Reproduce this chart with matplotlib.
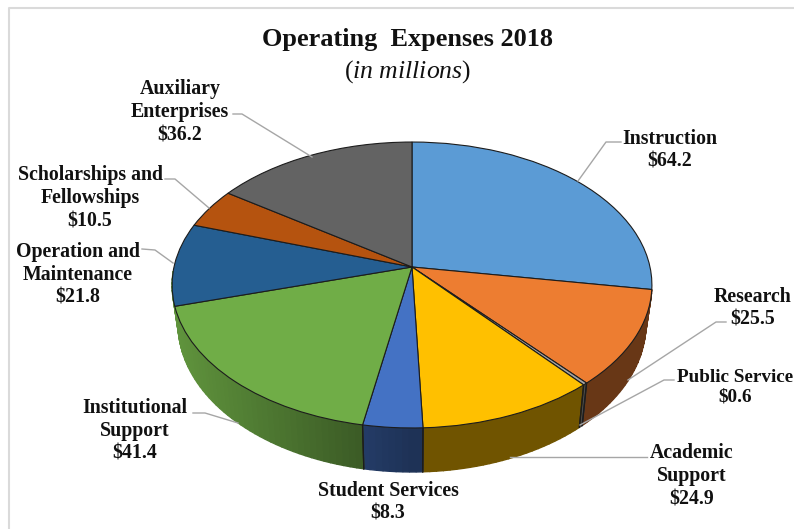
import numpy as np
import matplotlib
matplotlib.use("Agg")
import matplotlib.pyplot as plt
from matplotlib.transforms import Transform

plt.rcParams['font.family'] = ['Liberation Serif']
plt.rcParams['mathtext.fontset'] = 'custom'
plt.rcParams['mathtext.rm'] = 'Liberation Serif'
plt.rcParams['mathtext.it'] = 'Liberation Serif:italic'

# ---------- data ----------
categories = ["Instruction", "Research", "Public Service", "Academic\nSupport",
              "Student Services", "Institutional\nSupport", "Operation and\nMaintenance",
              "Scholarships and\nFellowships", "Auxiliary\nEnterprises"]
values = [64.2, 25.5, 0.6, 24.9, 8.3, 41.4, 21.8, 10.5, 36.2]
colors = ["#5B9BD5", "#ED7D31", "#A5A5A5", "#FFC000", "#4472C4",
          "#70AD47", "#255E91", "#B5530F", "#636363"]
label_pos = [(670, 150), (753, 308), (735, 387), (692, 476), (388, 502),
             (135, 431), (78, 275), (90, 198), (180, 112)]
label_size = [14.3, 14.3, 13.8, 14.3, 14.3, 14.3, 14.3, 14.3, 14.3]
leaders = [
    [(621, 142), (606, 142), (578, 181)],
    [(726, 322), (716, 322), (628, 380)],
    [(674, 380), (664, 380), (580, 425)],
    [(647, 457), (510, 457)],
    [(193, 413), (205, 413), (238, 423)],
    [(142, 249), (155, 250), (173, 263)],
    [(165, 179), (175, 179), (209, 208)],
    [(233, 114), (242, 114), (312, 157)],
]

# ---------- perspective geometry (unit pie -> pixels) ----------
CX, CY, K, AX, AY = 412.0, 267.0, 0.1259, 238.0, 140.7


def project(xy):
    xy = np.asarray(xy, dtype=float)
    w = 1 + K * xy[..., 1]
    return np.stack([CX + AX * xy[..., 0] / w, CY - AY * xy[..., 1] / w], axis=-1)


def project_low(xy):
    p = project(xy)
    return np.stack([CX + (p[..., 0] - CX) * 234 / 240,
                     324 + (p[..., 1] - 285) * 148 / 143], axis=-1)


class Perspective(Transform):
    input_dims = 2
    output_dims = 2
    is_separable = False
    has_inverse = False

    def transform_non_affine(self, values):
        return project(values)


fig = plt.figure(figsize=(7.94, 5.29), dpi=100, facecolor="white")
ax = fig.add_axes([0, 0, 1, 1])

wedges, _ = ax.pie(values, colors=colors, startangle=90, counterclock=False,
                   wedgeprops=dict(edgecolor="#1c1c1c", linewidth=0.8, zorder=5))
ax.set_aspect("auto")
ax.set_xlim(0, 794)
ax.set_ylim(529, 0)
ax.axis("off")
persp = Perspective()
for w in wedges:
    w.set_transform(persp + ax.transData)


def unit(theta):
    t = np.radians(theta)
    return np.stack([np.cos(t), np.sin(t)], axis=-1)


# ---------- side wall ----------
for w, col in zip(wedges, colors):
    mid = np.radians(0.5 * (w.theta1 + w.theta2))
    if np.sin(mid) >= 0:
        continue  # back slices have no visible wall
    rgb = np.array(matplotlib.colors.to_rgb(col))
    t1, t2 = w.theta1, w.theta2
    if np.cos(mid) < -0.5:
        lo = min(np.cos(np.radians(t1)), np.cos(np.radians(t2)))
        # leftmost front slice: its wall runs on to the silhouette tangent
        if np.cos(np.radians(t1)) == lo:
            t1 -= 14
        else:
            t2 += 14
    ths = np.linspace(t1, t2, max(3, int((t2 - t1) / 1.5) + 2))
    top = project(unit(ths))
    low = project_low(unit(ths))
    for i in range(len(ths) - 1):
        xm = 0.5 * (top[i, 0] + top[i + 1, 0])
        f = 0.44 + 0.42 * max(0.0, (CX - xm) / 240)
        quad = np.vstack([top[i], top[i + 1], low[i + 1], low[i]])
        ax.fill(quad[:, 0], quad[:, 1], color=tuple(rgb * f), lw=1.0, zorder=2)
    for j in (0, -1):
        if np.sin(np.radians(ths[j])) < -0.05 and abs(top[j, 0] - CX) < 200:
            ax.plot([top[j, 0], low[j, 0]], [top[j, 1], low[j, 1]],
                    color="#1c1c1c", lw=0.9, zorder=3)

# ---------- leaders ----------
for pts in leaders:
    xs, ys = zip(*pts)
    ax.plot(xs, ys, color="#A6A6A6", lw=1.0, zorder=6)

# ---------- labels ----------
for cat, val, (x, y), fs in zip(categories, values, label_pos, label_size):
    ax.text(x, y, f"{cat}\n${val:.1f}".replace("$", r"\$"), ha="center", va="center",
            fontsize=fs, fontweight="bold", color="#111111", linespacing=1.2,
            zorder=7, clip_on=False)

ax.text(407, 39.5, "Operating  Expenses 2018", ha="center", va="center",
        fontsize=18.9, fontweight="bold", color="#111111")
ax.text(408, 72, r"($\mathit{in\ millions}$)", ha="center", va="center",
        fontsize=18.5, color="#111111")

# ---------- frame ----------
ax.plot([794, 8.5, 8.5], [7.5, 7.5, 529], color="#DADADA", lw=1.5, zorder=1)

fig.savefig("out.png", dpi=100, facecolor="white")
